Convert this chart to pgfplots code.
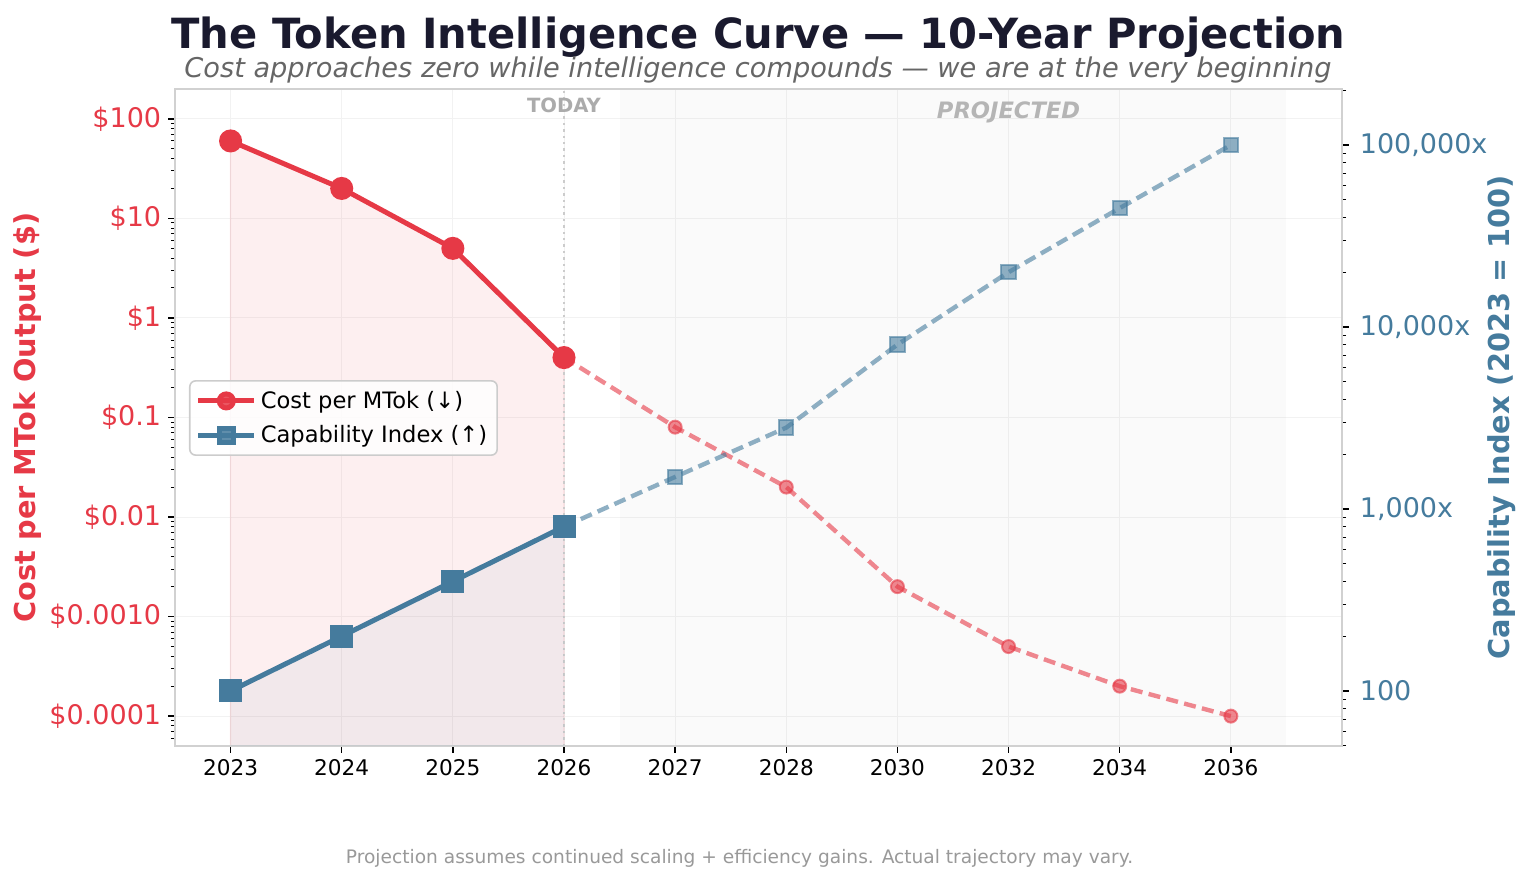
\documentclass[border=0pt]{standalone}
\usepackage{fontspec}
\setmainfont{DejaVu Sans}
\usepackage{pgfplots}
\pgfplotsset{compat=1.18}
\definecolor{cred}{HTML}{E63946}
\definecolor{cblue}{HTML}{457B9D}
\definecolor{ctitle}{HTML}{1A1A2E}
\begin{document}
\begin{tikzpicture}
\useasboundingbox (-87.5pt,-68pt) rectangle (679pt,373pt);
\begin{axis}[
  at={(0pt,0pt)}, anchor=south west,
  scale only axis, width=583.5pt, height=328.5pt,
  xmin=-0.5, xmax=10,
  ymode=log, ymin=5.0119e-5, ymax=199.526,
  xtick={0,1,2,3,4,5,6,7,8,9},
  xticklabels={2023,2024,2025,2026,2027,2028,2030,2032,2034,2036},
  ytick={1e-4,1e-3,1e-2,1e-1,1,10,100},
  yticklabels={\$0.0001,\$0.0010,\$0.01,\$0.1,\$1,\$10,\$100},
  minor ytick={6e-5,7e-5,8e-5,9e-5,2e-4,3e-4,4e-4,5e-4,6e-4,7e-4,8e-4,9e-4,2e-3,3e-3,4e-3,5e-3,6e-3,7e-3,8e-3,9e-3,0.02,0.03,0.04,0.05,0.06,0.07,0.08,0.09,0.2,0.3,0.4,0.5,0.6,0.7,0.8,0.9,2,3,4,5,6,7,8,9,20,30,40,50,60,70,80,90},
  xtick pos=bottom, ytick pos=left,
  tick align=outside,
  major tick length=3.4pt, minor tick length=2pt,
  tick style={black, line width=0.7pt},
  every minor tick/.append style={line width=0.5pt},
  axis line style={draw=black!18, line width=1pt},
  xmajorgrids, ymajorgrids,
  major grid style={draw=black!5, line width=0.5pt},
  yticklabel style={text=cred, font=\fontsize{13.5}{16}\selectfont},
  xticklabel style={font=\fontsize{10.8}{13}\selectfont},
  ylabel={Cost per MTok Output (\$)},
  ylabel style={font=\bfseries\fontsize{14.4}{17}\selectfont, text=cred, at={(axis description cs:-0.126,0.5)}, anchor=center},
]
% projected region
\addplot[draw=none, fill=black, fill opacity=0.018] coordinates {(3.5,5.0119e-5)(9.5,5.0119e-5)(9.5,199.526)(3.5,199.526)} -- cycle;
% red fill under historical cost
\addplot[draw=cred, draw opacity=0.12, line width=0.6pt, fill=cred, fill opacity=0.08] coordinates {(0,60)(1,20)(2,5)(3,0.4)(3,5.0119e-5)(0,5.0119e-5)} -- cycle;
% today line
\addplot[black!20, line width=1.2pt, dash pattern=on 1.2pt off 2pt] coordinates {(3,5.0119e-5)(3,199.526)};
% projected cost
\addplot[cred, opacity=0.6, line width=2.2pt, dash pattern=on 6pt off 3.2pt, mark=*, mark size=3.25pt, mark indices={2,3,4,5,6,7}, mark options={solid, line width=1pt}] coordinates {(3,0.4)(4,0.08)(5,0.02)(6,0.002)(7,0.0005)(8,0.0002)(9,0.0001)};
% historical cost
\addplot[cred, line width=2.5pt, mark=*, mark size=4.5pt, mark options={solid}] coordinates {(0,60)(1,20)(2,5)(3,0.4)};
\node[font=\bfseries\fontsize{9.8}{11}\selectfont, text=black!33] at (axis cs:3,138) {TODAY};
\node[font=\bfseries\itshape\fontsize{11.3}{13}\selectfont, text=black!29] at (axis cs:7,117) {PROJECTED};
\end{axis}
\begin{axis}[
  at={(0pt,0pt)}, anchor=south west,
  scale only axis, width=583.5pt, height=328.5pt,
  xmin=-0.5, xmax=10,
  ymode=log, ymin=49.86, ymax=203100,
  xtick=\empty,
  ytick={100,1000,10000,100000},
  yticklabels={100,{1,000x},{10,000x},{100,000x}},
  minor ytick={50,60,70,80,90,200,300,400,500,600,700,800,900,2000,3000,4000,5000,6000,7000,8000,9000,20000,30000,40000,50000,60000,70000,80000,90000,200000},
  ytick pos=right,
  tick align=outside,
  major tick length=3.4pt, minor tick length=2pt,
  tick style={black, line width=0.7pt},
  every minor tick/.append style={line width=0.5pt},
  axis line style={draw=black!18, line width=1pt},
  yticklabel style={text=cblue, font=\fontsize{13.5}{16}\selectfont, xshift=2pt},
  ylabel={Capability Index (2023 = 100)},
  ylabel style={font=\bfseries\fontsize{14.4}{17}\selectfont, text=cblue, at={(axis description cs:1.137,0.5)}, anchor=center},
  legend style={at={(0.012,0.557)}, anchor=north west, draw=black!20, line width=0.8pt, rounded corners=3pt, fill=white, fill opacity=0.85, text opacity=1, draw opacity=1, font=\fontsize{11.3}{13.5}\selectfont, inner sep=3pt, row sep=3pt, /tikz/every even column/.append style={column sep=5pt}},
  legend cell align=left,
  legend image code/.code={\draw[#1, mark repeat=2, mark phase=2] plot coordinates {(0pt,0pt) (14pt,0pt) (28pt,0pt)};},
]
\addlegendimage{cred, line width=2.5pt, mark=*, mark size=3.5pt, mark options={solid}}
\addlegendentry{Cost per MTok (↓)}
\addlegendimage{cblue, line width=2.5pt, mark=square*, mark size=3.5pt, mark options={solid}}
\addlegendentry{Capability Index (↑)}
% blue fill
\addplot[forget plot, draw=none, fill=cblue, fill opacity=0.06] coordinates {(0,100)(1,200)(2,400)(3,800)(3,49.86)(0,49.86)} -- cycle;
% projected capability
\addplot[forget plot, cblue, opacity=0.6, line width=2.2pt, dash pattern=on 6pt off 3.2pt, mark=square*, mark size=3.6pt, mark indices={2,3,4,5,6,7}, mark options={solid, line width=1pt}] coordinates {(3,800)(4,1500)(5,2800)(6,8000)(7,20000)(8,45000)(9,100000)};
% historical capability
\addplot[forget plot, cblue, line width=2.5pt, mark=square*, mark size=4.5pt, mark options={solid}] coordinates {(0,100)(1,200)(2,400)(3,800)};
\end{axis}
\node[anchor=base, font=\bfseries\fontsize{20.8}{24}\selectfont, text=ctitle] at (291.75pt,348.5pt) {The Token Intelligence Curve — 10-Year Projection};
\node[anchor=base, font=\itshape\fontsize{13.6}{16}\selectfont, text=black!60] at (291.5pt,334pt) {Cost approaches zero while intelligence compounds — we are at the very beginning};
\node[anchor=base, font=\fontsize{9.3}{11}\selectfont, text=black!40] at (282.25pt,-59pt) {Projection assumes continued scaling + efficiency gains. Actual trajectory may vary.};
\end{tikzpicture}
\end{document}
